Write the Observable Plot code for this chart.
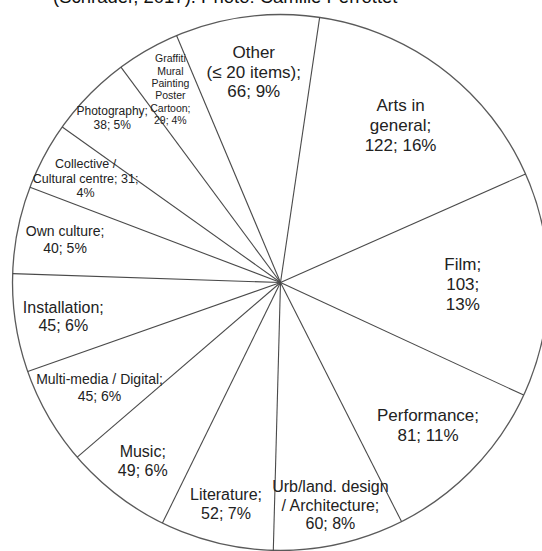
<!DOCTYPE html>
<html>
<head>
<meta charset="utf-8">
<script src="https://cdn.jsdelivr.net/npm/d3@7"></script>
<script src="https://cdn.jsdelivr.net/npm/@observablehq/plot@0.6"></script>
<style>
  html, body { margin: 0; padding: 0; background: #fff; }
  #wrap { position: relative; width: 542px; height: 551px; overflow: hidden; }
  #caption { position: absolute; left: 53px; top: -13px; font-family: "Liberation Sans", Arial, sans-serif; font-size: 18.5px; line-height: 20px; color: #111; white-space: nowrap; }
  #chart { position: absolute; left: 0; top: 0; }
</style>
</head>
<body>
<div id="wrap">
  <div id="chart"></div>
  <div id="caption">(Schrader, 2017). Photo: Camille Perrottet</div>
</div>
<script>
// ---- data (clockwise order, starting right of 12 o'clock) ----
const categories = [
  "Arts in\ngeneral;",
  "Film;",
  "Performance;",
  "Urb/land. design\n/ Architecture;",
  "Literature;",
  "Music;",
  "Multi-media / Digital;",
  "Installation;",
  "Own culture;",
  "Collective /\nCultural centre;",
  "Photography;",
  "Graffiti\nMural\nPainting\nPoster\nCartoon;",
  "Other\n(≤ 20 items);"
];
const values = [122, 103, 81, 60, 52, 49, 45, 45, 40, 31, 38, 29, 66];
const percents = ["16%", "13%", "11%", "8%", "7%", "6%", "6%", "6%", "5%", "4%", "5%", "4%", "9%"];

// ---- layout ----
const R = 268;                 // pie radius in px
const startDeg = 8.4;          // angle of first boundary, clockwise from top
const nameSep = ["\n","\n","\n","\n","\n","\n","\n","\n","\n"," ","\n","\n","\n"];
const pctSep  = [" ","\n"," "," "," "," "," "," "," ","\n"," "," "," "];
const labelRadius = [0.74, 0.68, 0.765, 0.85, 0.85, 0.84, 0.78, 0.82, 0.82, 0.825, 0.88, 0.83, 0.795];
const labelSize = [17, 17, 17, 16, 16, 16, 14, 16, 14, 12.5, 12, 10.5, 17];

const a0 = startDeg * Math.PI / 180;
const arcs = d3.pie().sort(null).startAngle(a0).endAngle(a0 + 2 * Math.PI)(values);

const boundaries = arcs.map(a => ({x1: 0, y1: 0, x2: Math.sin(a.startAngle), y2: Math.cos(a.startAngle)}));
const labels = arcs.map((a, i) => {
  const m = (a.startAngle + a.endAngle) / 2;
  return {
    x: labelRadius[i] * Math.sin(m),
    y: labelRadius[i] * Math.cos(m),
    text: categories[i] + nameSep[i] + values[i] + ";" + pctSep[i] + percents[i],
    size: labelSize[i]
  };
});

const chart = Plot.plot({
  width: 542,
  height: 551,
  margin: 0,
  style: {background: "white", fontFamily: "'Liberation Sans', Arial, sans-serif"},
  x: {domain: [-280 / R, 262 / R], axis: null},
  y: {domain: [-269 / R, 282 / R], axis: null},
  marks: [
    Plot.dot([{x: 0, y: 0}], {x: "x", y: "y", r: R, fill: "white", stroke: "#5a5a5a", strokeWidth: 1.3}),
    Plot.link(boundaries, {x1: "x1", y1: "y1", x2: "x2", y2: "y2", stroke: "#4a4a4a", strokeWidth: 1.1}),
    Plot.text(labels, {x: "x", y: "y", text: "text", fontSize: "size", lineHeight: 1.17, fill: "#222", fontFamily: "'Liberation Sans', Arial, sans-serif"})
  ]
});
document.getElementById("chart").appendChild(chart);
</script>
</body>
</html>
